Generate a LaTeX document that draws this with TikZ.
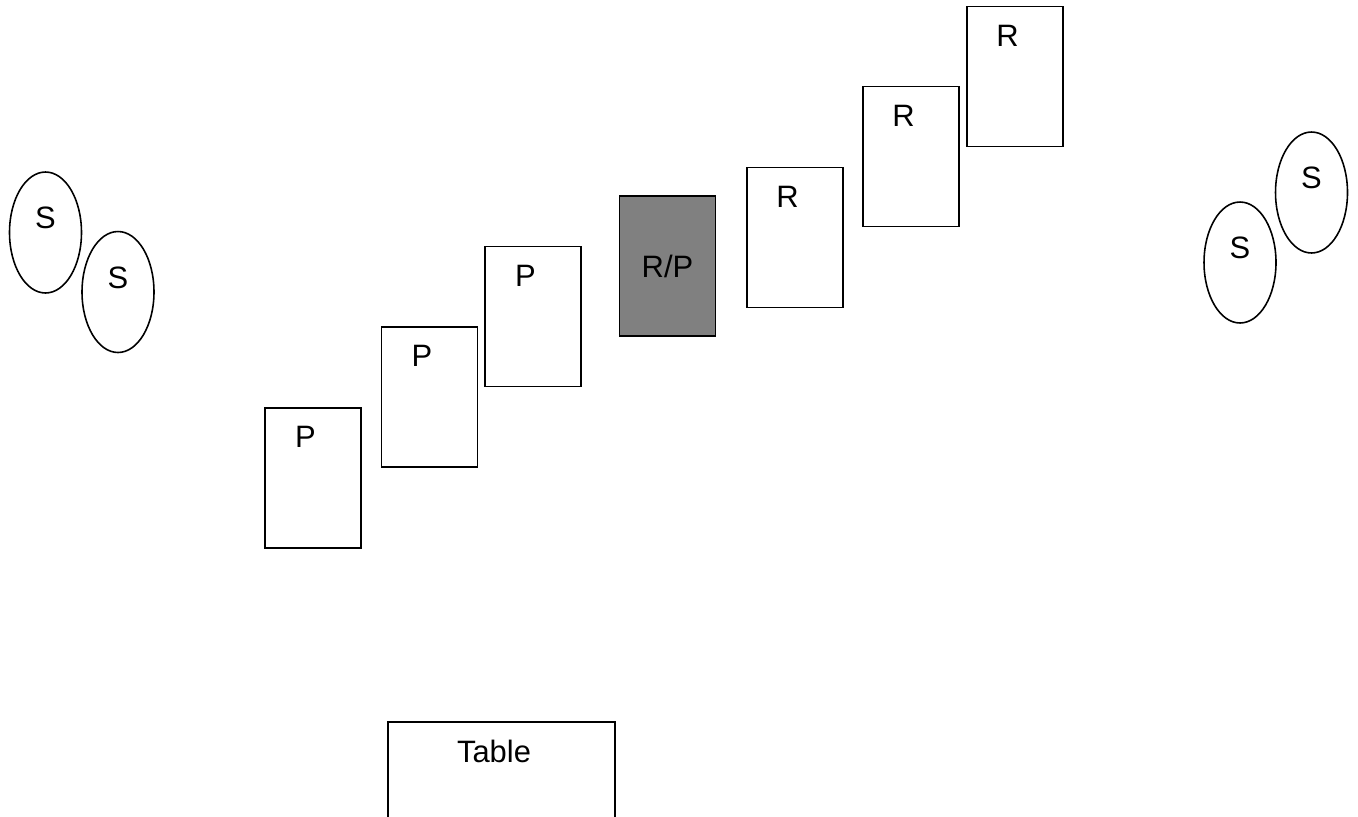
\documentclass[tikz,border=0pt]{standalone}
\usepackage{fontspec}
\setmainfont{Liberation Sans}
\usetikzlibrary{shapes.geometric}
\begin{document}
\begin{tikzpicture}[x=0.02cm,y=-0.02cm,line width=0.9pt,font=\fontsize{17.6}{21}\selectfont,
  card/.style={draw,rectangle,minimum width=1.92cm,minimum height=2.8cm,inner sep=0pt},
  cardlab/.style={anchor=center,xshift=-0.15cm,yshift=-0.6cm,inner sep=0pt},
  seat/.style={draw,ellipse,minimum width=1.44cm,minimum height=2.42cm,inner sep=0pt},
  seatlab/.style={anchor=center,yshift=0.29cm,inner sep=0pt}]
\useasboundingbox (0,0) rectangle (1358,816);
\clip (0,0) rectangle (1358,816);
% seats
\foreach \i/\x/\y in {1/45.5/232.5,2/118/292,3/1240/262.5,4/1311.5/192.5}{\node[seat,label={[seatlab]center:S}] (s\i) at (\x,\y) {};};
% cards
\foreach \i/\x/\y in {1/313/478,2/429.5/397,3/533/316.5}{\node[card,label={[cardlab]north:P}] (p\i) at (\x,\y) {};};
\node[card,fill=gray] (rp) at (667.5,266) {R/P};
\foreach \i/\x/\y in {1/795/237.5,2/911/156.5,3/1015/76.5}{\node[card,label={[cardlab]north:R}] (r\i) at (\x,\y) {};};
% table
\node[draw,minimum width=4.54cm,minimum height=2.8cm,anchor=north,label={[cardlab]north:Table}] (table) at (501.5,721) {};
\end{tikzpicture}
\end{document}
